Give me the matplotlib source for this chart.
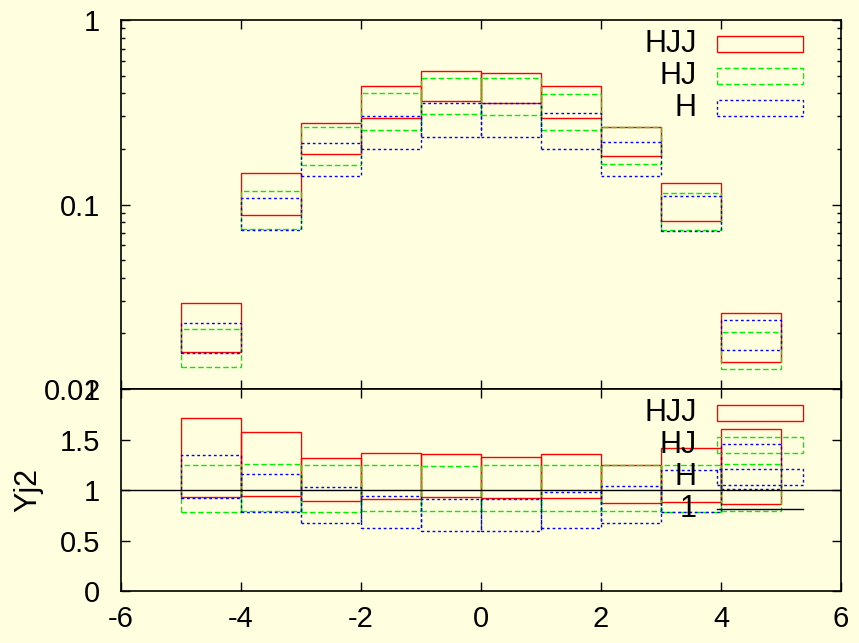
import matplotlib
matplotlib.use("Agg")
import matplotlib.pyplot as plt
from matplotlib.patches import Rectangle
from matplotlib.lines import Line2D
from matplotlib.ticker import FixedLocator, LogLocator, NullFormatter

plt.rcParams['font.family'] = ['Liberation Sans', 'DejaVu Sans']
plt.rcParams['axes.unicode_minus'] = False

# bin left edges (width 1)
bin_left = [-5, -4, -3, -2, -1, 0, 1, 2, 3, 4]

# upper panel: lower / upper edge of each band
hjj_lo = [0.0158, 0.0877, 0.187, 0.293, 0.3625, 0.356, 0.294, 0.183, 0.0817, 0.0140]
hjj_hi = [0.0291, 0.1476, 0.275, 0.440, 0.529, 0.516, 0.437, 0.262, 0.130, 0.0259]
hj_lo = [0.0132, 0.0739, 0.164, 0.252, 0.309, 0.306, 0.253, 0.166, 0.0727, 0.0128]
hj_hi = [0.0212, 0.1179, 0.262, 0.402, 0.483, 0.483, 0.399, 0.262, 0.1154, 0.0204]
h_lo = [0.0157, 0.0730, 0.142, 0.200, 0.231, 0.231, 0.199, 0.143, 0.0721, 0.0163]
h_hi = [0.0229, 0.108, 0.215, 0.303, 0.354, 0.354, 0.315, 0.218, 0.111, 0.0236]

# lower panel: ratios
hjj_r_lo = [0.931, 0.938, 0.891, 0.911, 0.928, 0.921, 0.921, 0.868, 0.885, 0.865]
hjj_r_hi = [1.717, 1.574, 1.321, 1.370, 1.360, 1.331, 1.360, 1.251, 1.413, 1.601]
hj_r_lo = [0.779, 0.789, 0.782, 0.789, 0.792, 0.789, 0.796, 0.796, 0.786, 0.796]
hj_r_hi = [1.251, 1.257, 1.251, 1.251, 1.238, 1.251, 1.251, 1.251, 1.251, 1.261]
h_r_lo = [0.921, 0.779, 0.677, 0.624, 0.594, 0.598, 0.621, 0.677, 0.782, 1.014]
h_r_hi = [1.350, 1.155, 1.027, 0.944, 0.911, 0.908, 0.980, 1.043, 1.202, 1.459]

labels = ["HJJ", "HJ", "H"]
colors = ["#ff0000", "#00ee00", "#0000ff"]
styles = ["-", (0, (4, 2)), (0, (2, 2))]

bg = "#ffffe0"
fs = 21      # tick labels
fs_key = 22  # key and axis label

fig = plt.figure(figsize=(8.59, 6.43), dpi=100, facecolor=bg)
ax1 = fig.add_axes([0.14086, 0.39502, 0.83818, 0.57387], facecolor=bg)
ax2 = fig.add_axes([0.14086, 0.08087, 0.83818, 0.31415], facecolor=bg)


def draw_bands(ax, lows, highs):
    for lo, hi, c, ls in zip(lows, highs, colors, styles):
        heights = [b - a for a, b in zip(lo, hi)]
        ax.bar(bin_left, heights, width=1.0, bottom=lo, align="edge",
               fill=False, edgecolor=c, linestyle=ls, linewidth=1.0)


def draw_key(ax, ax_h_px, extra_one=False):
    # gnuplot style key: text right aligned, sample box to the right
    x0 = (717.5 - 121) / 720.0
    x1 = (802.7 - 121) / 720.0
    xt = (697.0 - 121) / 720.0
    bh = 16.0 / ax_h_px
    for i, (lab, c, ls) in enumerate(zip(labels, colors, styles)):
        yc = 1 - (24.0 + 32.0 * i) / ax_h_px
        ax.text(xt, yc, lab, transform=ax.transAxes, ha="right", va="center",
                fontsize=fs_key)
        ax.add_patch(Rectangle((x0, yc - bh / 2), x1 - x0, bh,
                               transform=ax.transAxes, fill=False,
                               edgecolor=c, linestyle=ls, linewidth=1.0,
                               clip_on=False))
    if extra_one:
        yc = 1 - (24.0 + 32.0 * 3) / ax_h_px
        ax.text(xt, yc, "1", transform=ax.transAxes, ha="right", va="center",
                fontsize=fs_key)
        ax.add_line(Line2D([x0, x1], [yc, yc], transform=ax.transAxes,
                           color="black", linewidth=1.0))


draw_bands(ax1, [hjj_lo, hj_lo, h_lo], [hjj_hi, hj_hi, h_hi])
draw_bands(ax2, [hjj_r_lo, hj_r_lo, h_r_lo], [hjj_r_hi, hj_r_hi, h_r_hi])
ax2.axhline(1.0, color="black", linewidth=1.0)

# upper panel axes
ax1.set_yscale("log")
ax1.set_ylim(0.01, 1)
ax1.set_xlim(-6, 6)
ax1.yaxis.set_major_locator(FixedLocator([0.01, 0.1, 1]))
ax1.set_yticklabels(["0.01", "0.1", "1"])
ax1.yaxis.set_minor_locator(LogLocator(base=10, subs=range(2, 10)))
ax1.yaxis.set_minor_formatter(NullFormatter())
ax1.set_xticks(range(-6, 7, 2))
ax1.set_xticklabels([])

# lower panel axes
ax2.set_xlim(-6, 6)
ax2.set_ylim(0, 2)
ax2.set_xticks(range(-6, 7, 2))
ax2.set_xticklabels([str(v) for v in range(-6, 7, 2)])
ax2.set_yticks([0, 0.5, 1, 1.5, 2])
ax2.set_yticklabels(["0", "0.5", "1", "1.5", "2"])
ax2.set_ylabel("Yj2", fontsize=fs_key)
ax2.yaxis.set_label_coords(-0.108, 0.5)

for ax in (ax1, ax2):
    ax.tick_params(which="both", direction="in", top=True, right=True,
                   labelsize=fs, width=1.0)
    ax.tick_params(which="major", length=6.5)
    ax.tick_params(which="minor", length=3)
    ax.tick_params(axis="y", pad=15)
    ax.tick_params(axis="x", pad=10)
    for s in ax.spines.values():
        s.set_linewidth(1.2)

draw_key(ax1, 369.0)
draw_key(ax2, 202.0, extra_one=True)

fig.savefig("out.png", dpi=100, facecolor=bg)
